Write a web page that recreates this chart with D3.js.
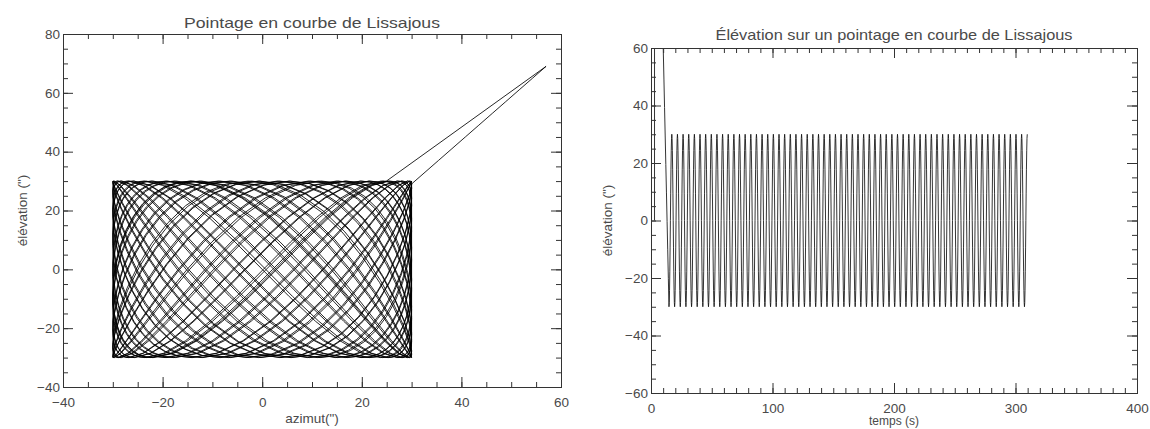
<!DOCTYPE html>
<html><head><meta charset="utf-8">
<script src="https://cdn.jsdelivr.net/npm/d3@7"></script>
<style>
body{margin:0;background:#fff}
svg{display:block}
text{font-family:"Liberation Sans",Arial,sans-serif;fill:#4a4a4a}
</style>
</head><body>
<svg id="c" width="1150" height="429"></svg>
<script>
// ---------- DATA ----------
// Tick labels
const azTicks = [-40, -20, 0, 20, 40, 60];
const elTicksLeft = [-40, -20, 0, 20, 40, 60, 80];
const timeTicks = [0, 100, 200, 300, 400];
const elTicksRight = [-60, -40, -20, 0, 20, 40, 60];

// Approach: starting point of the scan (t, azimut, elevation)
const startTime = [9.6];
const startAz = [57];
const startEl = [69];
// First samples of the elevation record (before approach)
const leadTimes = [2.9, 2.9];
const leadEl = [0, 69];
// Return point after the scan (left panel)
const returnAz = [57];
const returnEl = [69];

// Elevation turning points (s) and values (")
const elTurnTimes = [
14.80,17.12,19.44,21.77,24.09,26.41,28.73,31.05,33.38,35.70,
38.02,40.34,42.66,44.99,47.31,49.63,51.95,54.27,56.60,58.92,
61.24,63.56,65.88,68.21,70.53,72.85,75.17,77.49,79.82,82.14,
84.46,86.78,89.10,91.43,93.75,96.07,98.39,100.71,103.04,105.36,
107.68,110.00,112.32,114.65,116.97,119.29,121.61,123.93,126.26,128.58,
130.90,133.22,135.54,137.87,140.19,142.51,144.83,147.15,149.48,151.80,
154.12,156.44,158.76,161.09,163.41,165.73,168.05,170.37,172.70,175.02,
177.34,179.66,181.98,184.31,186.63,188.95,191.27,193.59,195.92,198.24,
200.56,202.88,205.20,207.53,209.85,212.17,214.49,216.81,219.14,221.46,
223.78,226.10,228.42,230.75,233.07,235.39,237.71,240.03,242.36,244.68,
247.00,249.32,251.64,253.97,256.29,258.61,260.93,263.25,265.58,267.90,
270.22,272.54,274.86,277.19,279.51,281.83,284.15,286.47,288.80,291.12,
293.44,295.76,298.08,300.41,302.73,305.05,307.37,309.69];
const elTurnValues = [
-30,30,-30,30,-30,30,-30,30,-30,30,-30,30,-30,30,-30,30,
-30,30,-30,30,-30,30,-30,30,-30,30,-30,30,-30,30,-30,30,
-30,30,-30,30,-30,30,-30,30,-30,30,-30,30,-30,30,-30,30,
-30,30,-30,30,-30,30,-30,30,-30,30,-30,30,-30,30,-30,30,
-30,30,-30,30,-30,30,-30,30,-30,30,-30,30,-30,30,-30,30,
-30,30,-30,30,-30,30,-30,30,-30,30,-30,30,-30,30,-30,30,
-30,30,-30,30,-30,30,-30,30,-30,30,-30,30,-30,30,-30,30,
-30,30,-30,30,-30,30,-30,30,-30,30,-30,30,-30,30,-30,30];

// Azimut turning points (s) and values (")
const azTurnTimes = [
11.70,14.48,18.48,22.48,26.48,30.48,34.48,38.47,42.47,46.47,
50.47,54.47,58.47,62.47,66.47,70.47,74.47,78.47,82.47,86.47,
90.47,94.47,98.47,102.47,106.47,110.47,114.47,118.46,122.46,126.46,
130.46,134.46,138.46,142.46,146.46,150.46,154.46,158.46,162.46,166.46,
170.46,174.46,178.46,182.46,186.46,190.46,194.46,198.45,202.45,206.45,
210.45,214.45,218.45,222.45,226.45,230.45,234.45,238.45,242.45,246.45,
250.45,254.45,258.45,262.45,266.45,270.45,274.45,278.44,282.44,286.44,
290.44,294.44,298.44,302.44,306.44,310.44];
const azTurnValues = [
30,
30,-30,30,-30,30,-30,30,-30,30,-30,30,-30,30,-30,30,-30,
30,-30,30,-30,30,-30,30,-30,30,-30,30,-30,30,-30,30,-30,
30,-30,30,-30,30,-30,30,-30,30,-30,30,-30,30,-30,30,-30,
30,-30,30,-30,30,-30,30,-30,30,-30,30,-30,30,-30,30,-30,
30,-30,30,-30,30,-30,30,-30,30,-30,
30];

const titleLeft = "Pointage en courbe de Lissajous";
const titleRight = "Élévation sur un pointage en courbe de Lissajous";
const xLabelLeft = "azimut(\")";
const yLabelLeft = "élévation (\")";
const xLabelRight = "temps (s)";
const yLabelRight = "élévation (\")";

// ---------- DRAW ----------
const svg = d3.select("#c");
const fmt = d3.format("d");
const axisColor = "#333";
const textColor = "#4a4a4a";
const SUB = 10; // rendering subdivisions of each segment between turning points

// Value along the scan: the first leg (approach) is straight,
// swings between turning points follow a sinusoidal (ease) profile.
function track(times, values) {
  const n = times.length;
  return t => {
    let i = d3.bisectRight(times, t) - 1;
    i = Math.max(0, Math.min(n - 2, i));
    const s = Math.max(0, Math.min(1, (t - times[i]) / (times[i + 1] - times[i])));
    const e = i === 0 ? s : d3.easeSinInOut(s);
    return values[i] + (values[i + 1] - values[i]) * e;
  };
}
function subdivide(times) {
  const out = [];
  for (let i = 0; i < times.length - 1; i++) {
    for (let k = 0; k < SUB; k++) out.push(times[i] + (times[i + 1] - times[i]) * k / SUB);
  }
  out.push(times[times.length - 1]);
  return out;
}

function boxAxes(g, x, y, xMajor, xMinor, yMajor, yMinor) {
  const [xl, xr] = x.range();
  const [yb, yt] = y.range();
  const style = sel => {
    sel.select(".domain").remove();
    sel.selectAll("line").attr("stroke", axisColor);
    sel.selectAll("text").attr("fill", textColor).style("font-size", "13.5px")
      .style("font-family", "'Liberation Sans', Arial, sans-serif");
  };
  g.append("g").attr("transform", `translate(0,${yb})`)
    .call(d3.axisBottom(x).tickValues(xMinor).tickSize(-5).tickSizeOuter(0).tickFormat("")).call(style);
  g.append("g").attr("transform", `translate(0,${yb})`)
    .call(d3.axisBottom(x).tickValues(xMajor).tickSize(-10).tickSizeOuter(0).tickPadding(10).tickFormat(fmt)).call(style);
  g.append("g").attr("transform", `translate(0,${yt})`)
    .call(d3.axisTop(x).tickValues(xMinor).tickSize(-5).tickSizeOuter(0).tickFormat("")).call(style);
  g.append("g").attr("transform", `translate(0,${yt})`)
    .call(d3.axisTop(x).tickValues(xMajor).tickSize(-10).tickSizeOuter(0).tickFormat("")).call(style);
  g.append("g").attr("transform", `translate(${xl},0)`)
    .call(d3.axisLeft(y).tickValues(yMinor).tickSize(-5).tickSizeOuter(0).tickFormat("")).call(style);
  g.append("g").attr("transform", `translate(${xl},0)`)
    .call(d3.axisLeft(y).tickValues(yMajor).tickSize(-10).tickSizeOuter(0).tickPadding(3).tickFormat(fmt)).call(style);
  g.append("g").attr("transform", `translate(${xr},0)`)
    .call(d3.axisRight(y).tickValues(yMinor).tickSize(-5).tickSizeOuter(0).tickFormat("")).call(style);
  g.append("g").attr("transform", `translate(${xr},0)`)
    .call(d3.axisRight(y).tickValues(yMajor).tickSize(-10).tickSizeOuter(0).tickFormat("")).call(style);
  g.append("rect").attr("x", xl + 0.5).attr("y", yt + 0.5)
    .attr("width", xr - xl).attr("height", yb - yt)
    .attr("fill", "none").attr("stroke", axisColor).attr("stroke-width", 1);
}

// ===== Left panel: azimut vs elevation =====
const xL = d3.scaleLinear().domain([azTicks[0], azTicks[azTicks.length - 1]]).range([63, 561]);
const yL = d3.scaleLinear().domain([elTicksLeft[0], elTicksLeft[elTicksLeft.length - 1]]).range([387, 34]);

const azAt = track([...startTime, ...azTurnTimes], [...startAz, ...azTurnValues]);
const elAt = track([...startTime, ...elTurnTimes], [...startEl, ...elTurnValues]);
const tEnd = elTurnTimes[elTurnTimes.length - 1];
const vertexTimes = Array.from(new Set([...startTime, ...elTurnTimes,
  ...azTurnTimes.filter(t => t <= tEnd)])).sort(d3.ascending);
const xyPoints = subdivide(vertexTimes).map(t => [azAt(t), elAt(t)]);
xyPoints.push([returnAz[0], returnEl[0]]);

const gL = svg.append("g");
gL.append("path").datum(xyPoints)
  .attr("fill", "none").attr("stroke", "#000").attr("stroke-width", 0.85)
  .attr("stroke-linejoin", "round")
  .attr("d", d3.line().x(d => xL(d[0])).y(d => yL(d[1])));

boxAxes(gL, xL, yL, azTicks, d3.range(-40, 60.01, 5), elTicksLeft, d3.range(-40, 80.01, 5));

gL.append("text").attr("x", (63 + 561) / 2).attr("y", 28).attr("text-anchor", "middle")
  .attr("textLength", 256).attr("lengthAdjust", "spacingAndGlyphs")
  .style("font-size", "15px").text(titleLeft);
gL.append("text").attr("x", (63 + 561) / 2).attr("y", 423).attr("text-anchor", "middle")
  .style("font-size", "13.5px").text(xLabelLeft);
gL.append("text").attr("transform", `translate(27,${(34 + 387) / 2}) rotate(-90)`)
  .attr("text-anchor", "middle").style("font-size", "13.5px").text(yLabelLeft);

// ===== Right panel: elevation vs time =====
const xR = d3.scaleLinear().domain([timeTicks[0], timeTicks[timeTicks.length - 1]]).range([651, 1137]);
const yR = d3.scaleLinear().domain([elTicksRight[0], elTicksRight[elTicksRight.length - 1]]).range([393, 48]);

const gR = svg.append("g");
svg.append("defs").append("clipPath").attr("id", "clipR")
  .append("rect").attr("x", 651).attr("y", 48).attr("width", 486).attr("height", 345);

const tsPoints = [
  ...leadTimes.map((t, i) => [t, leadEl[i]]),
  ...subdivide([...startTime, ...elTurnTimes]).map(t => [t, elAt(t)])
];
gR.append("path").datum(tsPoints).attr("clip-path", "url(#clipR)")
  .attr("fill", "none").attr("stroke", "#111").attr("stroke-width", 0.85)
  .attr("stroke-linejoin", "round")
  .attr("d", d3.line().x(d => xR(d[0])).y(d => yR(d[1])));

boxAxes(gR, xR, yR, timeTicks, d3.range(0, 400.01, 10), elTicksRight, d3.range(-60, 60.01, 5));

gR.append("text").attr("x", (651 + 1137) / 2).attr("y", 40).attr("text-anchor", "middle")
  .attr("textLength", 357).attr("lengthAdjust", "spacingAndGlyphs")
  .style("font-size", "15px").text(titleRight);
gR.append("text").attr("x", (651 + 1137) / 2).attr("y", 425).attr("text-anchor", "middle")
  .style("font-size", "12px").text(xLabelRight);
gR.append("text").attr("transform", `translate(612,${(48 + 393) / 2}) rotate(-90)`)
  .attr("text-anchor", "middle").style("font-size", "13.5px").text(yLabelRight);
</script>
</body></html>
